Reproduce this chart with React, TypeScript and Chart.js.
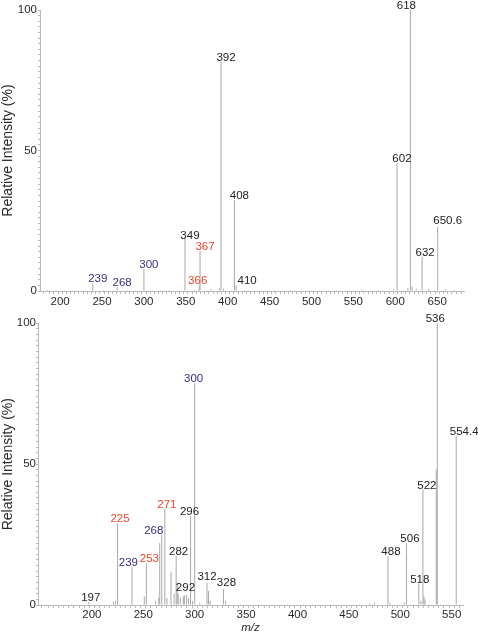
import React, { useEffect, useRef } from "react";
import { Chart, registerables } from "chart.js";

Chart.register(...registerables);

// ---------- Top spectrum ----------
const topMz = [239, 268, 300, 349, 366, 367, 392, 408, 410, 602, 618, 632, 650.6];
const topIntensity = [2.8, 1.4, 7.8, 19.2, 2.0, 14.2, 81.5, 32.4, 2.0, 45.5, 100, 12.1, 22.8];
const topLabels = ["239", "268", "300", "349", "366", "367", "392", "408", "410", "602", "618", "632", "650.6"];
const topLabelGroup = ["p", "p", "p", "k", "o", "o", "k", "k", "k", "k", "k", "k", "k"];
const topMinorMz = [185, 215, 252, 280, 320, 330, 360, 380, 390, 395, 420, 455, 475, 500, 530, 560, 580, 598, 615, 620, 625, 640, 660, 670];
const topMinorIntensity = [0.4, 0.3, 0.4, 0.4, 0.4, 0.4, 0.5, 0.6, 1.0, 0.8, 0.4, 0.3, 0.4, 0.3, 0.4, 0.5, 0.4, 0.6, 1.0, 1.6, 0.8, 0.7, 0.6, 0.4];

// ---------- Bottom spectrum ----------
const bottomMz = [197, 225, 239, 253, 268, 271, 282, 292, 296, 300, 312, 328, 488, 506, 518, 522, 536, 554.4];
const bottomIntensity = [1.0, 29.0, 13.4, 14.8, 25.0, 34.0, 17.5, 3.5, 31.5, 78.7, 7.7, 5.6, 17.3, 22.0, 7.5, 41.0, 100, 60.0];
const bottomLabels = ["197", "225", "239", "253", "268", "271", "282", "292", "296", "300", "312", "328", "488", "506", "518", "522", "536", "554.4"];
const bottomLabelGroup = ["k", "o", "p", "o", "p", "o", "k", "k", "k", "p", "k", "k", "k", "k", "k", "k", "k", "k"];
const bottomMinorMz = [221, 223, 251, 262, 265, 266, 273, 277, 280, 283, 284, 286, 289, 290, 294, 298, 305, 313.5, 315, 330, 470, 475, 490, 504, 520, 523, 524, 535];
const bottomMinorIntensity = [1.2, 1.5, 3, 1.5, 2.5, 22, 2.5, 11.8, 4, 8, 4, 2.5, 3, 3.5, 2.5, 1.5, 0.8, 5, 1.5, 1.5, 0.6, 0.8, 0.8, 0.8, 1.5, 3, 2, 48];

// ---------- axis tick labels ----------
const yTickLabels = [0, 50, 100];
const xLabelEvery = 50;

// ---------- styles (kept apart from data) ----------
const FONT = "'Liberation Sans', Arial, sans-serif";
const LINE = "#a8a8a8";
const AXIS = "#b8b8b8";
const TEXT = "#2a2a2a";
const GROUP_COLOR: Record<string, string> = { k: "#222222", p: "#3d2c82", o: "#e8462a" };

const topNudge: Record<string, [number, number]> = {
  "239": [5, 0], "268": [5, 0], "300": [5, 0], "349": [5, 3], "366": [-1.5, 0], "367": [5, 0],
  "392": [5, 0], "408": [5, 0], "410": [11, 0], "602": [5, 0], "618": [-4, 0], "632": [3, 0], "650.6": [10, -2],
};
const bottomNudge: Record<string, [number, number]> = {
  "197": [2, 0], "225": [2.5, 0], "239": [-3.6, 0], "253": [3, 0], "268": [-8, 0], "271": [2, 0],
  "282": [2.5, 0], "292": [-1, -3], "296": [-1, 0], "300": [-1, 0], "312": [0, -2.5], "328": [3, -2.5],
  "488": [3, 0], "506": [3.5, 0], "518": [1, 0], "522": [4, 0], "536": [-2, 0], "554.4": [8, 0],
};

type SpecProps = {
  top: number;
  height: number;
  mz: number[];
  intensity: number[];
  labels: string[];
  groups: string[];
  minorMz: number[];
  minorIntensity: number[];
  nudge: Record<string, [number, number]>;
  xMin: number;
  xMax: number;
  yAxisWidth: number;
  xAxisHeight: number;
  padTop: number;
  padRight: number;
  xTitle?: string;
  xTickLen: number;
  xTickPad: number;
  yTickPad: number;
};

function Spectrum(p: SpecProps) {
  const ref = useRef<HTMLCanvasElement | null>(null);
  useEffect(() => {
    if (!ref.current) return;
    const labelPlugin = {
      id: "peakLabels",
      afterDatasetsDraw(chart: any) {
        const ctx = chart.ctx;
        const xs = chart.scales.x;
        const ys = chart.scales.y;
        ctx.save();
        ctx.font = `11.5px ${FONT}`;
        ctx.textAlign = "center";
        ctx.textBaseline = "alphabetic";
        p.labels.forEach((lab, i) => {
          const [dx, dy] = p.nudge[lab] || [0, 0];
          const x = xs.getPixelForValue(p.mz[i]) + dx;
          const y = ys.getPixelForValue(p.intensity[i]) - 1 + dy;
          ctx.fillStyle = GROUP_COLOR[p.groups[i]];
          ctx.fillText(lab, x, y);
        });
        ctx.restore();
      },
    };
    const barStyle = {
      backgroundColor: LINE,
      borderWidth: 0,
      barThickness: 1,
      inflateAmount: 0,
      grouped: false,
    };
    const chart = new Chart(ref.current, {
      type: "bar",
      data: {
        datasets: [
          { data: p.mz.map((m, i) => ({ x: m, y: p.intensity[i] })), ...barStyle } as any,
          { data: p.minorMz.map((m, i) => ({ x: m, y: p.minorIntensity[i] })), ...barStyle } as any,
        ],
      },
      options: {
        responsive: false,
        animation: false,
        layout: { padding: { top: p.padTop, right: p.padRight, left: 0, bottom: 0 } },
        plugins: { legend: { display: false }, tooltip: { enabled: false }, title: { display: false } },
        scales: {
          x: {
            type: "linear",
            min: p.xMin,
            max: p.xMax,
            offset: false,
            afterFit: (s: any) => {
              s.height = p.xAxisHeight;
            },
            grid: { drawOnChartArea: false, drawTicks: true, tickLength: p.xTickLen, color: AXIS },
            border: { color: AXIS, width: 1 },
            ticks: {
              stepSize: 5,
              autoSkip: false,
              maxRotation: 0,
              minRotation: 0,
              padding: p.xTickPad,
              color: TEXT,
              font: { family: FONT, size: 11.5 },
              callback: (v: any) => {
                const n = Number(v);
                return Math.abs(n % xLabelEvery) < 1e-6 ? String(n) : "";
              },
            },
            title: p.xTitle
              ? {
                  display: true,
                  text: p.xTitle,
                  color: TEXT,
                  font: { family: FONT, size: 11.5, style: "italic" },
                  padding: { top: 0, bottom: -3 },
                }
              : { display: false },
          } as any,
          y: {
            min: 0,
            max: 100,
            afterFit: (s: any) => {
              s.width = p.yAxisWidth;
            },
            grid: { drawOnChartArea: false, drawTicks: true, tickLength: 2, color: AXIS },
            border: { color: AXIS, width: 1 },
            ticks: {
              stepSize: 2,
              autoSkip: false,
              padding: p.yTickPad,
              color: TEXT,
              font: { family: FONT, size: 11.5 },
              callback: (v: any) => (yTickLabels.includes(Number(v)) ? String(v) : ""),
            },
            title: {
              display: true,
              text: "Relative Intensity (%)",
              color: TEXT,
              font: { family: FONT, size: 14, lineHeight: 1.15 },
              padding: { top: 0, bottom: 0 },
            },
          } as any,
        },
      },
      plugins: [labelPlugin as any],
    });
    return () => chart.destroy();
  }, []);
  return (
    <canvas
      ref={ref}
      width={478}
      height={p.height}
      style={{ position: "absolute", left: 0, top: p.top, width: 478, height: p.height }}
    />
  );
}

export default function App() {
  return (
    <div style={{ position: "absolute", left: 0, top: 0, width: 478, height: 632, background: "#fff" }}>
      <Spectrum
        top={0}
        height={310}
        mz={topMz}
        intensity={topIntensity}
        labels={topLabels}
        groups={topLabelGroup}
        minorMz={topMinorMz}
        minorIntensity={topMinorIntensity}
        nudge={topNudge}
        xMin={176}
        xMax={682}
        yAxisWidth={40}
        xAxisHeight={19}
        padTop={10}
        padRight={14}
        xTickLen={3}
        xTickPad={1}
        yTickPad={1}
      />
      <Spectrum
        top={310}
        height={322}
        mz={bottomMz}
        intensity={bottomIntensity}
        labels={bottomLabels}
        groups={bottomLabelGroup}
        minorMz={bottomMinorMz}
        minorIntensity={bottomMinorIntensity}
        nudge={bottomNudge}
        xMin={147.6}
        xMax={561}
        yAxisWidth={38}
        xAxisHeight={27}
        padTop={13.3}
        padRight={15}
        xTitle="m/z"
        xTickLen={3}
        xTickPad={0}
        yTickPad={0}
      />
    </div>
  );
}
